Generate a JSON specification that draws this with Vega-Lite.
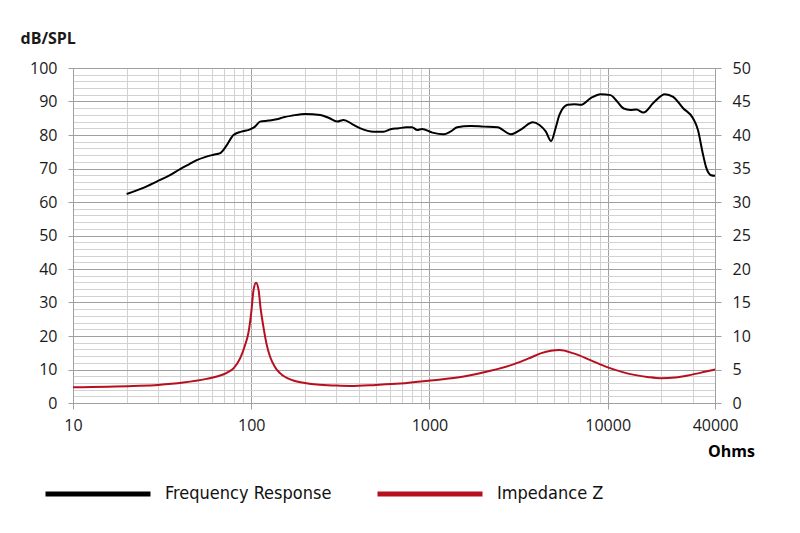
{
  "$schema": "https://vega.github.io/schema/vega-lite/v6.json",
  "autosize": {"type": "none"},
  "padding": {"left": 73, "top": 68, "right": 85, "bottom": 130},
  "width": 642,
  "height": 335,
  "background": "white",
  "config": {
    "view": {"stroke": "#a0a0a0", "strokeWidth": 1},
    "font": "Open Sans",
    "axis": {
      "labelFont": "Open Sans",
      "labelFontSize": 16,
      "labelColor": "#1a1a1a",
      "domainColor": "#a0a0a0",
      "gridWidth": 1,
      "labelOverlap": false,
      "labelFlush": false
    }
  },
  "datasets": {
    "fr": [
      {"series": "Frequency Response", "freq": 20, "spl": 62.4},
      {"series": "Frequency Response", "freq": 25, "spl": 64.3},
      {"series": "Frequency Response", "freq": 29.5, "spl": 66.1},
      {"series": "Frequency Response", "freq": 35, "spl": 68.0},
      {"series": "Frequency Response", "freq": 39.9, "spl": 69.8},
      {"series": "Frequency Response", "freq": 45, "spl": 71.3},
      {"series": "Frequency Response", "freq": 49.5, "spl": 72.5},
      {"series": "Frequency Response", "freq": 55, "spl": 73.4},
      {"series": "Frequency Response", "freq": 61.4, "spl": 74.1},
      {"series": "Frequency Response", "freq": 67, "spl": 74.6},
      {"series": "Frequency Response", "freq": 72, "spl": 76.5},
      {"series": "Frequency Response", "freq": 79.5, "spl": 80.0},
      {"series": "Frequency Response", "freq": 88, "spl": 81.0},
      {"series": "Frequency Response", "freq": 98.5, "spl": 81.7},
      {"series": "Frequency Response", "freq": 105, "spl": 82.5},
      {"series": "Frequency Response", "freq": 112, "spl": 84.0},
      {"series": "Frequency Response", "freq": 125, "spl": 84.3},
      {"series": "Frequency Response", "freq": 139, "spl": 84.7},
      {"series": "Frequency Response", "freq": 152, "spl": 85.3},
      {"series": "Frequency Response", "freq": 170, "spl": 85.8},
      {"series": "Frequency Response", "freq": 201, "spl": 86.3},
      {"series": "Frequency Response", "freq": 244, "spl": 86.0},
      {"series": "Frequency Response", "freq": 275, "spl": 85.0},
      {"series": "Frequency Response", "freq": 303, "spl": 84.0},
      {"series": "Frequency Response", "freq": 330, "spl": 84.5},
      {"series": "Frequency Response", "freq": 370, "spl": 83.2},
      {"series": "Frequency Response", "freq": 410, "spl": 82.0},
      {"series": "Frequency Response", "freq": 486, "spl": 81.0},
      {"series": "Frequency Response", "freq": 552, "spl": 81.0},
      {"series": "Frequency Response", "freq": 605, "spl": 81.7},
      {"series": "Frequency Response", "freq": 672, "spl": 82.0},
      {"series": "Frequency Response", "freq": 740, "spl": 82.3},
      {"series": "Frequency Response", "freq": 798, "spl": 82.3},
      {"series": "Frequency Response", "freq": 854, "spl": 81.5},
      {"series": "Frequency Response", "freq": 908, "spl": 81.8},
      {"series": "Frequency Response", "freq": 1039, "spl": 80.7},
      {"series": "Frequency Response", "freq": 1200, "spl": 80.2},
      {"series": "Frequency Response", "freq": 1310, "spl": 81.0},
      {"series": "Frequency Response", "freq": 1430, "spl": 82.3},
      {"series": "Frequency Response", "freq": 1695, "spl": 82.7},
      {"series": "Frequency Response", "freq": 2010, "spl": 82.5},
      {"series": "Frequency Response", "freq": 2410, "spl": 82.3},
      {"series": "Frequency Response", "freq": 2860, "spl": 80.2},
      {"series": "Frequency Response", "freq": 3270, "spl": 81.7},
      {"series": "Frequency Response", "freq": 3800, "spl": 83.8},
      {"series": "Frequency Response", "freq": 4140, "spl": 83.0},
      {"series": "Frequency Response", "freq": 4500, "spl": 81.0},
      {"series": "Frequency Response", "freq": 4810, "spl": 78.2},
      {"series": "Frequency Response", "freq": 5100, "spl": 82.0},
      {"series": "Frequency Response", "freq": 5360, "spl": 86.0},
      {"series": "Frequency Response", "freq": 5960, "spl": 89.0},
      {"series": "Frequency Response", "freq": 6500, "spl": 89.2},
      {"series": "Frequency Response", "freq": 7060, "spl": 89.0},
      {"series": "Frequency Response", "freq": 8030, "spl": 91.0},
      {"series": "Frequency Response", "freq": 9120, "spl": 92.2},
      {"series": "Frequency Response", "freq": 10370, "spl": 91.9},
      {"series": "Frequency Response", "freq": 11300, "spl": 90.0},
      {"series": "Frequency Response", "freq": 12300, "spl": 87.9},
      {"series": "Frequency Response", "freq": 13400, "spl": 87.5},
      {"series": "Frequency Response", "freq": 14500, "spl": 87.6},
      {"series": "Frequency Response", "freq": 15880, "spl": 86.7},
      {"series": "Frequency Response", "freq": 18060, "spl": 89.6},
      {"series": "Frequency Response", "freq": 20950, "spl": 92.2},
      {"series": "Frequency Response", "freq": 23300, "spl": 91.4},
      {"series": "Frequency Response", "freq": 26500, "spl": 88.0},
      {"series": "Frequency Response", "freq": 30100, "spl": 85.0},
      {"series": "Frequency Response", "freq": 32100, "spl": 81.5},
      {"series": "Frequency Response", "freq": 34000, "spl": 75.0},
      {"series": "Frequency Response", "freq": 35600, "spl": 70.5},
      {"series": "Frequency Response", "freq": 38000, "spl": 68.0},
      {"series": "Frequency Response", "freq": 40000, "spl": 67.8}
    ],
    "imp": [
      {"series": "Impedance Z", "freq": 10, "ohm": 2.35},
      {"series": "Impedance Z", "freq": 21.8, "ohm": 2.55},
      {"series": "Impedance Z", "freq": 30, "ohm": 2.7},
      {"series": "Impedance Z", "freq": 41.6, "ohm": 3.05},
      {"series": "Impedance Z", "freq": 56, "ohm": 3.6},
      {"series": "Impedance Z", "freq": 65, "ohm": 4.0},
      {"series": "Impedance Z", "freq": 73, "ohm": 4.5},
      {"series": "Impedance Z", "freq": 80, "ohm": 5.25},
      {"series": "Impedance Z", "freq": 86.6, "ohm": 6.65},
      {"series": "Impedance Z", "freq": 92, "ohm": 8.5},
      {"series": "Impedance Z", "freq": 96.7, "ohm": 10.65},
      {"series": "Impedance Z", "freq": 100, "ohm": 13.5},
      {"series": "Impedance Z", "freq": 103, "ohm": 16.85},
      {"series": "Impedance Z", "freq": 106.4, "ohm": 17.95},
      {"series": "Impedance Z", "freq": 110, "ohm": 16.85},
      {"series": "Impedance Z", "freq": 113, "ohm": 14.0},
      {"series": "Impedance Z", "freq": 117, "ohm": 11.4},
      {"series": "Impedance Z", "freq": 122, "ohm": 8.75},
      {"series": "Impedance Z", "freq": 127.6, "ohm": 6.9},
      {"series": "Impedance Z", "freq": 135, "ohm": 5.5},
      {"series": "Impedance Z", "freq": 145, "ohm": 4.45},
      {"series": "Impedance Z", "freq": 172, "ohm": 3.35},
      {"series": "Impedance Z", "freq": 200, "ohm": 3.0},
      {"series": "Impedance Z", "freq": 233, "ohm": 2.75},
      {"series": "Impedance Z", "freq": 300, "ohm": 2.6},
      {"series": "Impedance Z", "freq": 360, "ohm": 2.55},
      {"series": "Impedance Z", "freq": 500, "ohm": 2.7},
      {"series": "Impedance Z", "freq": 685, "ohm": 2.9},
      {"series": "Impedance Z", "freq": 1010, "ohm": 3.35},
      {"series": "Impedance Z", "freq": 1560, "ohm": 3.95},
      {"series": "Impedance Z", "freq": 2200, "ohm": 4.8},
      {"series": "Impedance Z", "freq": 2980, "ohm": 5.8},
      {"series": "Impedance Z", "freq": 3600, "ohm": 6.65},
      {"series": "Impedance Z", "freq": 4200, "ohm": 7.4},
      {"series": "Impedance Z", "freq": 4800, "ohm": 7.8},
      {"series": "Impedance Z", "freq": 5370, "ohm": 7.9},
      {"series": "Impedance Z", "freq": 6440, "ohm": 7.4},
      {"series": "Impedance Z", "freq": 8000, "ohm": 6.4},
      {"series": "Impedance Z", "freq": 9920, "ohm": 5.35},
      {"series": "Impedance Z", "freq": 12000, "ohm": 4.65},
      {"series": "Impedance Z", "freq": 14100, "ohm": 4.2},
      {"series": "Impedance Z", "freq": 17000, "ohm": 3.85},
      {"series": "Impedance Z", "freq": 19800, "ohm": 3.7},
      {"series": "Impedance Z", "freq": 24000, "ohm": 3.8},
      {"series": "Impedance Z", "freq": 29300, "ohm": 4.2},
      {"series": "Impedance Z", "freq": 35000, "ohm": 4.65},
      {"series": "Impedance Z", "freq": 40000, "ohm": 5.0}
    ]
  },
  "layer": [
    {
      "data": {"name": "fr"},
      "mark": {"type": "line", "strokeWidth": 2, "interpolate": "monotone"},
      "encoding": {
        "x": {
          "field": "freq",
          "type": "quantitative",
          "scale": {"type": "log", "domain": [10, 40000], "nice": false},
          "axis": {
            "orient": "bottom",
            "title": null,
            "values": [10, 20, 30, 40, 50, 60, 70, 80, 90, 100, 200, 300, 400, 500, 600, 700, 800, 900, 1000, 2000, 3000, 4000, 5000, 6000, 7000, 8000, 9000, 10000, 20000, 30000, 40000],
            "labelExpr": "(datum.value == 10 || datum.value == 100 || datum.value == 1000 || datum.value == 10000 || datum.value == 40000) ? format(datum.value, 'd') : ''",
            "grid": true,
            "gridColor": {"condition": {"test": "datum.value == 10 || datum.value == 100 || datum.value == 1000 || datum.value == 10000", "value": "#a0a0a0"}, "value": "#d2d2d2"},
            "tickColor": {"condition": {"test": "datum.value == 10 || datum.value == 100 || datum.value == 1000 || datum.value == 10000 || datum.value == 40000", "value": "#a0a0a0"}, "value": "transparent"},
            "tickSize": 6,
            "labelPadding": 8
          }
        },
        "y": {
          "field": "spl",
          "type": "quantitative",
          "scale": {"domain": [0, 100], "nice": false},
          "axis": {
            "orient": "left",
            "values": [0, 2, 4, 6, 8, 10, 12, 14, 16, 18, 20, 22, 24, 26, 28, 30, 32, 34, 36, 38, 40, 42, 44, 46, 48, 50, 52, 54, 56, 58, 60, 62, 64, 66, 68, 70, 72, 74, 76, 78, 80, 82, 84, 86, 88, 90, 92, 94, 96, 98, 100],
            "labelExpr": "datum.value % 10 == 0 ? datum.label : ''",
            "grid": true,
            "gridColor": {"condition": {"test": "datum.value % 10 == 0", "value": "#a0a0a0"}, "value": "#d2d2d2"},
            "tickColor": {"condition": {"test": "datum.value % 10 == 0", "value": "#a0a0a0"}, "value": "transparent"},
            "tickSize": 5,
            "labelPadding": 11,
            "title": "dB/SPL",
            "titleAngle": 0,
            "titleAlign": "left",
            "titleBaseline": "middle",
            "titleX": -53,
            "titleY": -30,
            "titleFont": "Open Sans",
            "titleFontSize": 16,
            "titleFontWeight": "bold",
            "titleColor": "#1a1a1a"
          }
        },
        "color": {
          "field": "series",
          "type": "nominal",
          "scale": {"domain": ["Frequency Response", "Impedance Z"], "range": ["#000000", "#b80f1f"]},
          "legend": {
            "orient": "none",
            "direction": "horizontal",
            "legendX": -30,
            "legendY": 371,
            "padding": 0,
            "title": null,
            "symbolType": "stroke",
            "symbolSize": 11025,
            "symbolStrokeWidth": 5,
            "labelFont": "'DejaVu Sans Condensed', Roboto, sans-serif",
            "labelFontSize": 18,
            "labelColor": "#111111",
            "labelOffset": 12,
            "labelLimit": 400,
            "columnPadding": 35
          }
        }
      }
    },
    {
      "data": {"name": "imp"},
      "mark": {"type": "line", "strokeWidth": 2, "interpolate": "monotone"},
      "encoding": {
        "x": {"field": "freq", "type": "quantitative"},
        "y": {
          "field": "ohm",
          "type": "quantitative",
          "scale": {"domain": [0, 50], "nice": false},
          "axis": {
            "orient": "right",
            "values": [0, 5, 10, 15, 20, 25, 30, 35, 40, 45, 50],
            "grid": false,
            "tickColor": "#a0a0a0",
            "tickSize": 6,
            "labelPadding": 11,
            "title": "Ohms",
            "titleAngle": 0,
            "titleAlign": "center",
            "titleBaseline": "middle",
            "titleX": 16,
            "titleY": 383,
            "titleFont": "Open Sans",
            "titleFontSize": 16,
            "titleFontWeight": "bold",
            "titleColor": "#000000"
          }
        },
        "color": {"field": "series", "type": "nominal"}
      }
    }
  ],
  "resolve": {"scale": {"y": "independent"}}
}
